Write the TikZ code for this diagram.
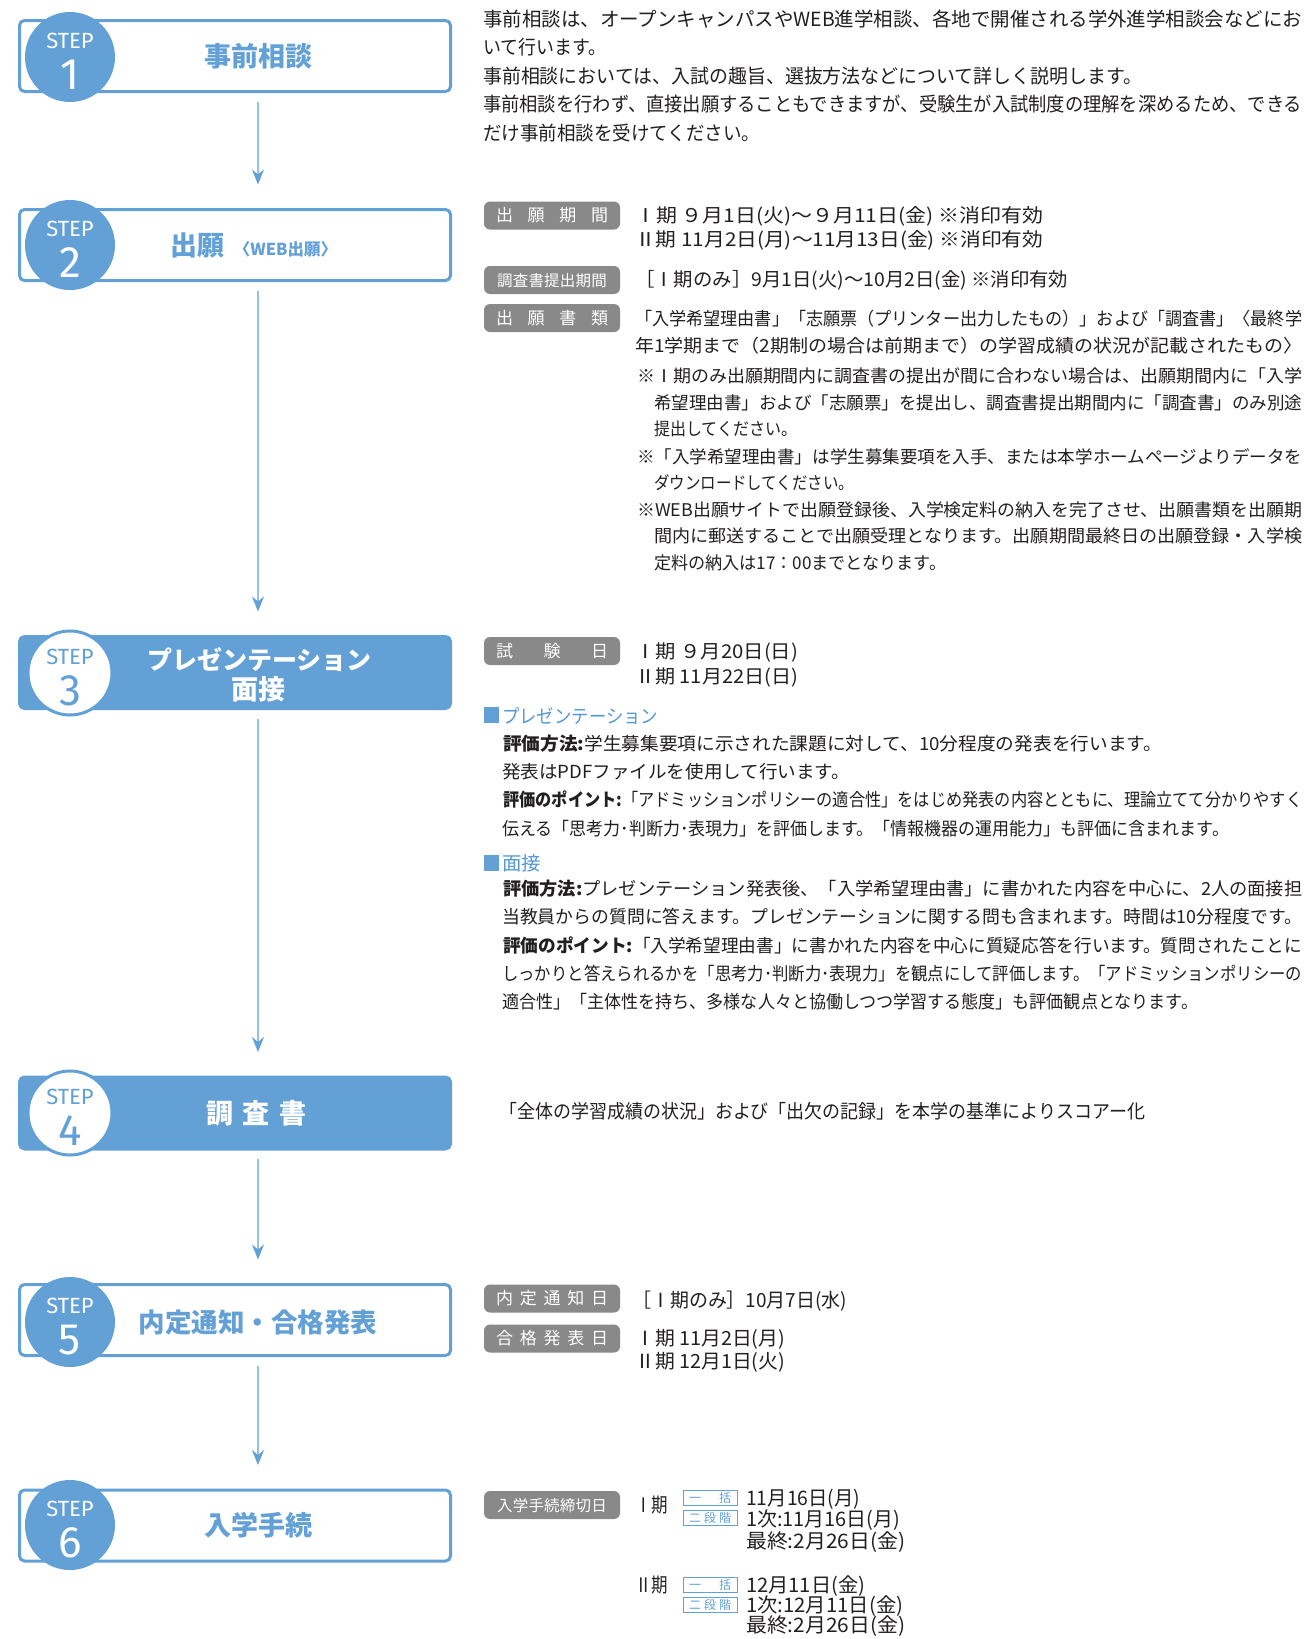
\documentclass[tikz,border=0pt]{standalone}
\usepackage{fontspec}
\usepackage{graphicx}
\setmainfont{Noto Sans CJK JP}
\newfontfamily\stepfont{Fira Sans}
\usetikzlibrary{arrows.meta}
\definecolor{sblue}{RGB}{98,160,214}
\definecolor{lblue}{RGB}{150,192,230}
\definecolor{hblue}{RGB}{84,152,212}
\definecolor{lgray}{RGB}{137,137,137}
\definecolor{txt}{RGB}{35,31,32}
\newcommand\fs[1]{\fontsize{#1pt}{#1pt}\selectfont}
\newsavebox\lbox
\newcommand\W[2]{\sbox\lbox{#2}\pgfmathsetmacro\sx{#1/\the\wd\lbox}\scalebox{\sx}[1]{\usebox\lbox}}
\tikzset{
 stepbox/.style={draw=sblue, line width=3pt, rounded corners=5pt, minimum width=431pt, minimum height=71pt, inner sep=0pt},
 stepfill/.style={stepbox, fill=sblue, minimum height=72pt},
 stepdisk/.style={circle, fill=sblue, minimum size=90pt, inner sep=0pt},
 stepring/.style={circle, fill=white, draw=sblue, line width=3pt, minimum size=84pt, inner sep=0pt},
 steplbl/.style={font=\stepfont\fs{22}, anchor=base, inner sep=0pt},
 stepnum/.style={font=\stepfont\fs{44}, anchor=base, inner sep=0pt},
 ttl/.style={font=\bfseries\fs{27}, anchor=base, inner sep=0pt},
 arr/.style={draw=lblue, line width=1.2pt, -{Stealth[length=15pt,width=12pt,inset=5pt,color=sblue]}},
 glabel/.style={fill=lgray, rounded corners=6pt, minimum width=136pt, minimum height=28pt, inner sep=0pt, text=white, font=\fs{17}, text height=14pt, text depth=2pt},
 tl/.style={anchor=base west, inner sep=0pt, text=txt},
 tag/.style={draw=sblue, line width=0.9pt, minimum width=54pt, minimum height=15pt, inner sep=0pt, text=sblue, font=\fs{12}, text height=9.5pt, text depth=1pt},
 sq/.style={fill=sblue, minimum width=15pt, minimum height=16pt, inner sep=0pt},
}
\begin{document}
\begin{tikzpicture}[x=1pt,y=-1pt]
\useasboundingbox[fill=white] (0,0) rectangle (1304,1639);
% ---------- step boxes ----------
\node[stepbox] (s1) at (235,56) {};
\node[stepbox] (s2) at (235,245) {};
\node[stepfill] (s3) at (235,672.5) {};
\node[stepfill] (s4) at (235,1113) {};
\node[stepbox] (s5) at (235,1320) {};
\node[stepbox] (s6) at (235,1525.5) {};
% circles
\node[stepdisk] (c1) at (70,57) {};
\node[stepdisk] (c2) at (70,245) {};
\node[stepring] (c3) at (70,673) {};
\node[stepring] (c4) at (70,1113) {};
\node[stepdisk] (c5) at (70,1322) {};
\node[stepdisk] (c6) at (70,1525) {};
\node[steplbl,text=white] (l1) at (70,48) {STEP};
\node[stepnum,text=white] (n1) at (70,89) {1};
\node[steplbl,text=white] (l2) at (70,236) {STEP};
\node[stepnum,text=white] (n2) at (70,277) {2};
\node[steplbl,text=sblue] (l3) at (70,664) {STEP};
\node[stepnum,text=sblue] (n3) at (70,705) {3};
\node[steplbl,text=sblue] (l4) at (70,1104) {STEP};
\node[stepnum,text=sblue] (n4) at (70,1145) {4};
\node[steplbl,text=white] (l5) at (70,1313) {STEP};
\node[stepnum,text=white] (n5) at (70,1354) {5};
\node[steplbl,text=white] (l6) at (70,1516) {STEP};
\node[stepnum,text=white] (n6) at (70,1557) {6};
% titles
\node[ttl,text=sblue] (t1) at (258,66) {事前相談};
\node[ttl,text=sblue] (t2) at (254,255) {出願\hspace{9pt}{\fs{16.5}〈WEB出願〉}};
\node[ttl,text=white,font=\bfseries\fs{25}] (t3a) at (259.5,669.5) {プレゼンテーション};
\node[ttl,text=white] (t3b) at (258.5,699) {面接};
\node[ttl,text=white] (t4) at (256.5,1123) {調\hspace{9.5pt}査\hspace{9.5pt}書};
\node[ttl,text=sblue,font=\bfseries\fs{26.5}] (t5) at (258,1332) {内定通知・合格発表};
\node[ttl,text=sblue] (t6) at (258,1535) {入学手続};
% arrows
\draw[arr] ([xshift=23pt,yshift=-8.5pt]s1.south) -- ([xshift=23pt,yshift=23.5pt]s2.north);
\draw[arr] ([xshift=23pt,yshift=-8.5pt]s2.south) -- ([xshift=23pt,yshift=23.5pt]s3.north);
\draw[arr] ([xshift=23pt,yshift=-8.5pt]s3.south) -- ([xshift=23pt,yshift=23.5pt]s4.north);
\draw[arr] ([xshift=23pt,yshift=-8.5pt]s4.south) -- ([xshift=23pt,yshift=23.5pt]s5.north);
\draw[arr] ([xshift=23pt,yshift=-8.5pt]s5.south) -- ([xshift=23pt,yshift=23.5pt]s6.north);
% ---------- step 1 text ----------
\begin{scope}[every node/.style={tl,font=\fs{19.5}}]
\node (p1a) at (483,26.2) {\W{819}{事前相談は、オープンキャンパスやWEB進学相談、各地で開催される学外進学相談会などにお}};
\node (p1b) at (483,54.4) {\W{123}{いて行います。}};
\node (p1c) at (483,83.7) {\W{659}{事前相談においては、入試の趣旨、選抜方法などについて詳しく説明します。}};
\node (p1d) at (483,111.9) {\W{819}{事前相談を行わず、直接出願することもできますが、受験生が入試制度の理解を深めるため、できる}};
\node (p1e) at (483,140.1) {\W{277}{だけ事前相談を受けてください。}};
\end{scope}
% ---------- step 2 text ----------
\node[glabel] (g1) at (552,215.5) {\makebox[112pt][s]{出\hfill 願\hfill 期\hfill 間}};
\node[glabel] (g2) at (552,280) {\fs{15.5}\makebox[110pt][s]{調\hfill 査\hfill 書\hfill 提\hfill 出\hfill 期\hfill 間}};
\node[glabel] (g3) at (552,318) {\makebox[112pt][s]{出\hfill 願\hfill 書\hfill 類}};
\begin{scope}[every node/.style={tl,font=\fs{19}}]
\node (d1) at (635,222) {\W{408}{Ⅰ期\ ９月1日(火)～９月11日(金)\ ※消印有効}};
\node (d2) at (635,246) {\W{408}{Ⅱ期 11月2日(月)～11月13日(金)\ ※消印有効}};
\node (d3) at (635,286) {\W{433}{［Ⅰ期のみ］9月1日(火)～10月2日(金)\ ※消印有効}};
\end{scope}
\begin{scope}[every node/.style={tl,font=\fs{18}}]
\node (b1) at (635,325.8) {\W{667}{「入学希望理由書」「志願票（プリンター出力したもの）」および「調査書」〈最終学}};
\node (b2) at (635,352.8) {\W{667}{年1学期まで（2期制の場合は前期まで）の学習成績の状況が記載されたもの〉}};
\end{scope}
\begin{scope}[every node/.style={tl,font=\fs{17.5}}]
\node (q1) at (637,382.7) {\W{665}{※Ⅰ期のみ出願期間内に調査書の提出が間に合わない場合は、出願期間内に「入学}};
\node (q2) at (654,409.7) {\W{648}{希望理由書」および「志願票」を提出し、調査書提出期間内に「調査書」のみ別途}};
\node (q3) at (654,435.7) {\W{143}{提出してください。}};
\node (q4) at (637,463.7) {\W{665}{※「入学希望理由書」は学生募集要項を入手、または本学ホームページよりデータを}};
\node (q5) at (654,489.7) {\W{200}{ダウンロードしてください。}};
\node (q6) at (637,516.7) {\W{665}{※WEB出願サイトで出願登録後、入学検定料の納入を完了させ、出願書類を出願期}};
\node (q7) at (654,542.7) {\W{648}{間内に郵送することで出願受理となります。出願期間最終日の出願登録・入学検}};
\node (q8) at (654,569.7) {\W{292}{定料の納入は17：00までとなります。}};
\end{scope}
% ---------- step 3 text ----------
\node[glabel] (g4) at (552,651) {\makebox[112pt][s]{試\hfill 験\hfill 日}};
\begin{scope}[every node/.style={tl,font=\fs{19}}]
\node (e1) at (635,658) {\W{163}{Ⅰ期\ ９月20日(日)}};
\node (e2) at (635,683) {\W{163}{Ⅱ期 11月22日(日)}};
\end{scope}
\node[sq] (sq1) at (491.5,715) {};
\node[tl,font=\fs{19},text=hblue] (h1) at (502,723.2) {\W{156}{プレゼンテーション}};
\begin{scope}[every node/.style={tl,font=\fs{18}}]
\node (r1) at (503,750.8) {\W{659}{\textbf{評価方法:}学生募集要項に示された課題に対して、10分程度の発表を行います。}};
\node (r2) at (502,778.8) {\W{348}{発表はPDFファイルを使用して行います。}};
\node (r3) at (503,806.8) {\W{799}{\textbf{評価のポイント:}「アドミッションポリシーの適合性」をはじめ発表の内容とともに、理論立てて分かりやすく}};
\node (r4) at (502,835.8) {\W{727}{伝える「思考力･判断力･表現力」を評価します。「情報機器の運用能力」も評価に含まれます。}};
\end{scope}
\node[sq] (sq2) at (491.5,863) {};
\node[tl,font=\fs{19},text=hblue] (h2) at (502,870.2) {\W{39}{面接}};
\begin{scope}[every node/.style={tl,font=\fs{18}}]
\node (r5) at (503,895.8) {\W{799}{\textbf{評価方法:}プレゼンテーション発表後、「入学希望理由書」に書かれた内容を中心に、2人の面接担}};
\node (r6) at (502,923.8) {\W{800}{当教員からの質問に答えます。プレゼンテーションに関する問も含まれます。時間は10分程度です。}};
\node (r7) at (503,952.8) {\W{799}{\textbf{評価のポイント:}「入学希望理由書」に書かれた内容を中心に質疑応答を行います。質問されたことに}};
\node (r8) at (502,980.8) {\W{800}{しっかりと答えられるかを「思考力･判断力･表現力」を観点にして評価します。「アドミッションポリシーの}};
\node (r9) at (502,1008.8) {\W{696}{適合性」「主体性を持ち、多様な人々と協働しつつ学習する態度」も評価観点となります。}};
\end{scope}
% ---------- step 4 text ----------
\node[tl,font=\fs{19}] (u1) at (499,1118.2) {\W{646}{「全体の学習成績の状況」および「出欠の記録」を本学の基準によりスコアー化}};
% ---------- step 5 text ----------
\node[glabel] (g5) at (552,1298.5) {\makebox[112pt][s]{内\hfill 定\hfill 通\hfill 知\hfill 日}};
\node[glabel] (g6) at (552,1338.5) {\makebox[112pt][s]{合\hfill 格\hfill 発\hfill 表\hfill 日}};
\begin{scope}[every node/.style={tl,font=\fs{19.5}}]
\node (v1) at (632,1307.2) {\W{215}{［Ⅰ期のみ］10月7日(水)}};
\node (v2) at (635,1345.2) {\W{150}{Ⅰ期 11月2日(月)}};
\node (v3) at (635,1368.2) {\W{150}{Ⅱ期 12月1日(火)}};
\end{scope}
% ---------- step 6 text ----------
\node[glabel] (g7) at (552,1505) {\fs{15.5}\makebox[110pt][s]{入\hfill 学\hfill 手\hfill 続\hfill 締\hfill 切\hfill 日}};
\node[tl,font=\fs{20}] (k1) at (635,1512.6) {\W{33}{Ⅰ期}};
\node[tag] (tg1) at (710,1498) {\makebox[42pt][s]{一\hfill 括}};
\node[tag] (tg2) at (710,1518) {\makebox[42pt][s]{二\hfill 段\hfill 階}};
\node[tl,font=\fs{20}] (k2) at (635,1592.6) {\W{33}{Ⅱ期}};
\node[tag] (tg3) at (710,1585) {\makebox[42pt][s]{一\hfill 括}};
\node[tag] (tg4) at (710,1605) {\makebox[42pt][s]{二\hfill 段\hfill 階}};
\begin{scope}[every node/.style={tl,font=\fs{20}}]
\node (w1) at (746,1505.2) {\W{114}{11月16日(月)}};
\node (w2) at (746,1526.2) {\W{154}{1次:11月16日(月)}};
\node (w3) at (746,1548.2) {\W{159}{最終:2月26日(金)}};
\node (w4) at (746,1592.2) {\W{119}{12月11日(金)}};
\node (w5) at (746,1612.2) {\W{157}{1次:12月11日(金)}};
\node (w6) at (746,1632.2) {\W{159}{最終:2月26日(金)}};
\end{scope}
\end{tikzpicture}
\end{document}
